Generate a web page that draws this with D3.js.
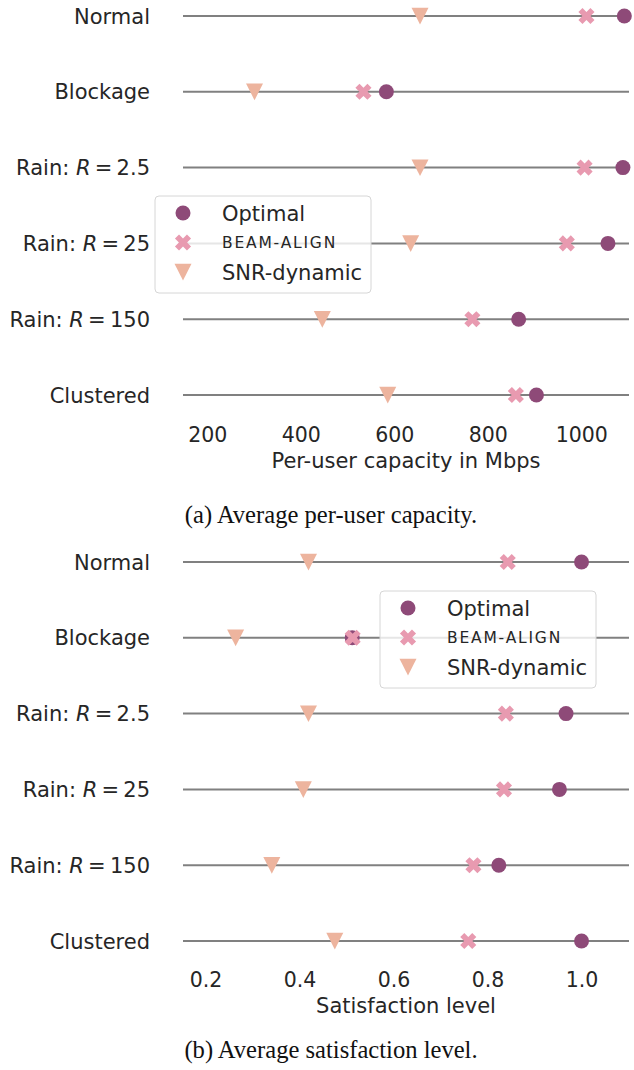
<!DOCTYPE html>
<html>
<head>
<meta charset="utf-8">
<script src="https://cdn.jsdelivr.net/npm/d3@7"></script>
<style>
html,body{margin:0;padding:0;background:#fff;}
svg{display:block;}
</style>
</head>
<body>
<svg id="chart" width="634" height="1070"></svg>
<script>
const categories = ["Normal", "Blockage", "Rain: R = 2.5", "Rain: R = 25", "Rain: R = 150", "Clustered"];
const seriesNames = ["Optimal", "BEAM-ALIGN", "SNR-dynamic"];

const capacityOptimal = [1092, 583, 1089, 1057, 866, 904];
const capacityBeamAlign = [1011, 534, 1007, 969, 767, 860];
const capacitySnrDynamic = [655, 301, 655, 635, 446, 586];
const capacityTicks = [200, 400, 600, 800, 1000];

const satisfactionOptimal = [1.0, 0.512, 0.967, 0.953, 0.824, 1.0];
const satisfactionBeamAlign = [0.843, 0.513, 0.839, 0.835, 0.770, 0.759];
const satisfactionSnrDynamic = [0.419, 0.264, 0.419, 0.408, 0.341, 0.475];
const satisfactionTicks = [0.2, 0.4, 0.6, 0.8, 1.0];

const colors = {"Optimal": "#8e4a78", "BEAM-ALIGN": "#e89ab0", "SNR-dynamic": "#edb49e"};
const SANS = "'DejaVu Sans', sans-serif";
const FS = 21;
const TFS = 20.5;

const svg = d3.select("#chart");

function markerPath(name) {
  if (name === "Optimal") return d3.symbol(d3.symbolCircle, Math.PI * 7.5 * 7.5)();
  if (name === "BEAM-ALIGN") {
    const L = 8.5, t = 2.9;
    const pts = [[t,t],[t,L],[-t,L],[-t,t],[-L,t],[-L,-t],[-t,-t],[-t,-L],[t,-L],[t,-t],[L,-t],[L,t]];
    const c = Math.SQRT1_2;
    return "M" + pts.map(p => [(p[0]-p[1])*c, (p[0]+p[1])*c].map(v => v.toFixed(2)).join(",")).join("L") + "Z";
  }
  return "M-8.5,-8.2L8.5,-8.2L0,8.5Z";
}

function drawLabel(sel, text) {
  const m = text.match(/^(Rain: )R( = )(.*)$/);
  if (m) {
    sel.append("tspan").text("Rain: ");
    sel.append("tspan").attr("font-style", "italic").text("R");
    sel.append("tspan").text("\u2009=\u2009" + m[3]);
  } else {
    sel.text(text);
  }
}

function panel(opts) {
  const g = svg.append("g");
  const x = d3.scaleLinear().domain(opts.domain).range([183, 629]);
  const y = d3.scalePoint().domain(categories).range(opts.yRange);

  g.selectAll("line.row").data(categories).join("line")
    .attr("class", "row")
    .attr("x1", x.range()[0]).attr("x2", x.range()[1])
    .attr("y1", d => y(d)).attr("y2", d => y(d))
    .attr("stroke", "#808080").attr("stroke-width", 2);

  g.selectAll("text.cat").data(categories).join("text")
    .attr("class", "cat")
    .attr("x", 150).attr("y", d => y(d)).attr("dy", "0.36em")
    .attr("text-anchor", "end")
    .attr("font-family", SANS).attr("font-size", FS).attr("fill", "#262626")
    .each(function(d) { drawLabel(d3.select(this), d); });

  const series = [
    {name: "Optimal", values: opts.series[0]},
    {name: "BEAM-ALIGN", values: opts.series[1]},
    {name: "SNR-dynamic", values: opts.series[2]}
  ];
  series.forEach(s => {
    g.selectAll(null).data(s.values).join("path")
      .attr("d", markerPath(s.name))
      .attr("transform", (v, i) => `translate(${x(v)},${y(categories[i])})`)
      .attr("fill", colors[s.name]);
  });

  const axis = d3.axisBottom(x).tickValues(opts.ticks).tickFormat(opts.fmt).tickSize(0).tickPadding(0);
  const ax = g.append("g").attr("transform", `translate(0,${opts.tickY})`).call(axis);
  ax.select(".domain").remove();
  ax.selectAll("text").attr("font-family", SANS).attr("font-size", TFS).attr("fill", "#262626").attr("dy", "0.36em").attr("y", 0);

  g.append("text")
    .attr("x", 406).attr("y", opts.labelY).attr("dy", "0.36em")
    .attr("text-anchor", "middle")
    .attr("font-family", SANS).attr("font-size", FS).attr("fill", "#262626")
    .text(opts.xLabel);

  g.append("text")
    .attr("x", 331).attr("y", opts.captionY).attr("dy", "0.35em")
    .attr("text-anchor", "middle")
    .attr("font-family", "'Liberation Serif', 'Times New Roman', serif").attr("font-size", 24.6).attr("fill", "#111")
    .text(opts.caption);

  const lg = g.append("g").attr("transform", `translate(${opts.legend[0]},${opts.legend[1]})`);
  lg.append("rect").attr("x", 0).attr("y", 0).attr("width", 216).attr("height", 97).attr("rx", 4)
    .attr("fill", "#fff").attr("fill-opacity", 0.8).attr("stroke", "#d6d6d6").attr("stroke-width", 1);
  seriesNames.forEach((n, i) => {
    const yy = 17 + i * 29.5;
    lg.append("path").attr("d", markerPath(n)).attr("transform", `translate(28,${yy})`).attr("fill", colors[n]);
    const t = lg.append("text").attr("x", 67).attr("y", yy).attr("dy", "0.36em")
      .attr("font-family", SANS).attr("fill", "#262626");
    if (n === "BEAM-ALIGN") {
      t.attr("font-size", 15.5).attr("letter-spacing", 1.8).text(n);
    } else {
      t.attr("font-size", FS).text(n);
    }
  });
}

panel({
  domain: [148, 1102],
  yRange: [16, 395],
  series: [capacityOptimal, capacityBeamAlign, capacitySnrDynamic],
  ticks: capacityTicks, fmt: d3.format("d"),
  tickY: 435, labelY: 460, xLabel: "Per-user capacity in Mbps",
  captionY: 514, caption: "(a) Average per-user capacity.",
  legend: [155, 196]
});

panel({
  domain: [0.152, 1.101],
  yRange: [562, 941],
  series: [satisfactionOptimal, satisfactionBeamAlign, satisfactionSnrDynamic],
  ticks: satisfactionTicks, fmt: d3.format(".1f"),
  tickY: 980, labelY: 1005, xLabel: "Satisfaction level",
  captionY: 1049, caption: "(b) Average satisfaction level.",
  legend: [380, 591]
});
</script>
</body>
</html>
